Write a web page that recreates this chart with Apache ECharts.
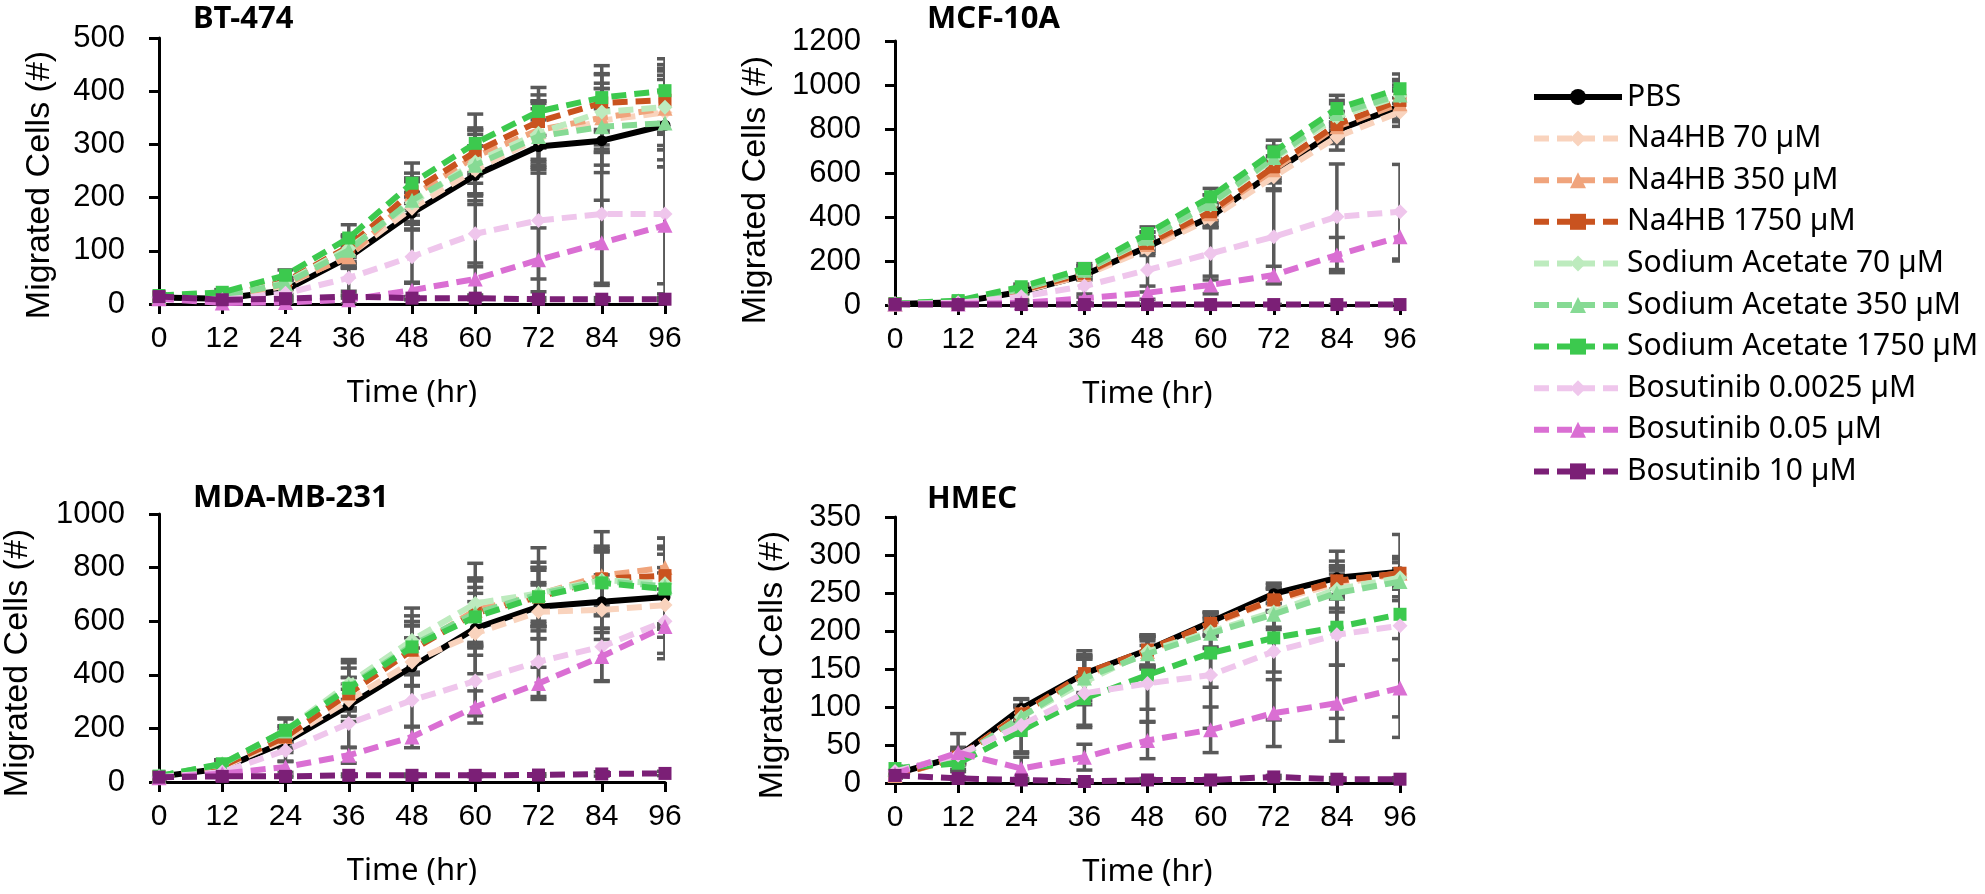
<!DOCTYPE html>
<html><head><meta charset="utf-8">
<script src="https://cdn.jsdelivr.net/npm/echarts@6/dist/echarts.min.js"></script>
<style>html,body{margin:0;padding:0;background:#fff}#c{width:1985px;height:894px}</style>
</head><body><div id="c"></div><script>
const TIMES = [0, 12, 24, 36, 48, 60, 72, 84, 96];
const X_TICKS = [0, 12, 24, 36, 48, 60, 72, 84, 96];
const SERIES_NAMES = ['PBS', 'Na4HB 70 µM', 'Na4HB 350 µM', 'Na4HB 1750 µM',
  'Sodium Acetate 70 µM', 'Sodium Acetate 350 µM', 'Sodium Acetate 1750 µM',
  'Bosutinib 0.0025 µM', 'Bosutinib 0.05 µM', 'Bosutinib 10 µM'];
const COLORS = ['#000000', '#F9D3BD', '#F0A47C', '#C9531F', '#BDEBBE', '#86DA94', '#3CC94E', '#EFC6EC', '#DA6FD3', '#7B1F76'];
const SYMBOLS = ['circle', 'diamond', 'triangle', 'rect', 'diamond', 'triangle', 'rect', 'diamond', 'triangle', 'rect'];
const PANEL_TITLES = ['BT-474', 'MCF-10A', 'MDA-MB-231', 'HMEC'];
const Y_MAX = [500, 1200, 1000, 350];
const Y_INTERVAL = [100, 200, 200, 50];

// means, one row per series (same order as SERIES_NAMES)
const BT474_MEAN = [
  [12, 10, 26, 88, 171, 242, 296, 307, 336],
  [12, 10, 35, 92, 180, 252, 312, 345, 360],
  [12, 12, 38, 89, 202, 277, 327, 350, 368],
  [12, 14, 42, 108, 211, 286, 343, 378, 383],
  [14, 15, 40, 105, 190, 267, 321, 361, 370],
  [14, 15, 38, 101, 195, 261, 315, 333, 340],
  [16, 22, 54, 124, 227, 302, 362, 388, 401],
  [12, 8, 20, 49, 89, 132, 157, 169, 169],
  [10, 2, 3, 8, 26, 47, 83, 115, 148],
  [14, 8, 10, 14, 11, 11, 9, 9, 9]
];
const BT474_ERR = [
  [3, 4, 8, 20, 30, 55, 50, 60, 65],
  [3, 4, 8, 25, 30, 45, 55, 60, 70],
  [3, 4, 8, 20, 35, 50, 55, 65, 70],
  [3, 4, 8, 20, 35, 45, 50, 55, 60],
  [3, 4, 8, 25, 40, 60, 60, 70, 80],
  [3, 4, 8, 25, 40, 58, 62, 72, 82],
  [3, 5, 10, 25, 38, 55, 45, 60, 60],
  [3, 3, 8, 25, 50, 62, 110, 130, 150],
  [3, 2, 3, 8, 15, 30, 60, 80, 110],
  [3, 3, 3, 3, 3, 3, 3, 3, 3]
];
const MCF10A_MEAN = [
  [5, 12, 60, 136, 265, 401, 605, 794, 903],
  [5, 12, 62, 135, 255, 393, 583, 764, 877],
  [5, 14, 66, 140, 275, 415, 615, 810, 915],
  [5, 14, 68, 144, 280, 424, 628, 820, 930],
  [6, 18, 72, 155, 300, 455, 665, 855, 950],
  [6, 18, 74, 158, 303, 461, 670, 870, 955],
  [6, 20, 83, 166, 325, 492, 696, 893, 983],
  [5, 10, 38, 86, 159, 234, 310, 401, 424],
  [4, 5, 10, 30, 56, 91, 136, 227, 310],
  [3, 2, 2, 2, 2, 2, 2, 2, 2]
];
const MCF10A_ERR = [
  [2, 4, 10, 20, 30, 40, 50, 60, 70],
  [2, 4, 10, 22, 30, 42, 55, 60, 65],
  [2, 4, 10, 20, 32, 40, 50, 62, 70],
  [2, 4, 10, 20, 30, 40, 50, 60, 70],
  [2, 4, 10, 22, 30, 45, 50, 60, 68],
  [2, 4, 10, 20, 30, 40, 52, 60, 70],
  [2, 4, 12, 22, 30, 38, 53, 60, 67],
  [2, 4, 15, 50, 100, 120, 210, 240, 215],
  [2, 3, 8, 20, 30, 40, 40, 80, 110],
  [1, 1, 1, 1, 1, 1, 1, 1, 1]
];
const MDA231_MEAN = [
  [20, 50, 150, 286, 430, 573, 654, 673, 690],
  [20, 55, 160, 305, 448, 554, 635, 642, 660],
  [20, 60, 170, 330, 495, 641, 700, 770, 800],
  [20, 60, 168, 330, 492, 630, 690, 758, 770],
  [22, 68, 193, 367, 529, 666, 704, 754, 740],
  [22, 66, 190, 355, 510, 630, 700, 750, 730],
  [22, 68, 193, 350, 504, 616, 691, 743, 720],
  [18, 37, 118, 218, 305, 377, 449, 505, 600],
  [16, 31, 56, 100, 168, 280, 368, 468, 580],
  [18, 21, 21, 25, 25, 25, 26, 30, 32]
];
const MDA231_ERR = [
  [5, 15, 40, 60, 70, 100, 90, 100, 110],
  [5, 15, 40, 60, 90, 150, 100, 110, 120],
  [5, 15, 40, 60, 90, 120, 100, 100, 110],
  [5, 15, 40, 60, 90, 120, 100, 100, 110],
  [5, 15, 45, 90, 120, 150, 170, 180, 170],
  [5, 15, 45, 90, 110, 130, 120, 130, 140],
  [5, 15, 45, 75, 95, 110, 110, 120, 130],
  [5, 10, 40, 90, 100, 130, 130, 130, 120],
  [5, 10, 20, 30, 40, 60, 60, 90, 120],
  [3, 3, 3, 5, 5, 5, 5, 8, 8]
];
const HMEC_MEAN = [
  [12, 35, 98, 144, 175, 212, 249, 270, 278],
  [10, 33, 92, 140, 172, 208, 240, 262, 275],
  [10, 33, 91, 142, 173, 210, 242, 265, 276],
  [10, 34, 91, 144, 175, 210, 241, 266, 276],
  [18, 32, 87, 133, 173, 199, 225, 255, 270],
  [18, 32, 87, 138, 170, 197, 222, 250, 265],
  [19, 26, 69, 111, 142, 171, 191, 205, 222],
  [15, 37, 76, 118, 131, 142, 173, 195, 207],
  [12, 40, 19, 34, 56, 70, 92, 105, 125],
  [10, 6, 4, 2, 4, 4, 8, 5, 5]
];
const HMEC_ERR = [
  [3, 8, 12, 30, 20, 12, 12, 22, 20],
  [3, 8, 10, 25, 20, 15, 15, 20, 20],
  [3, 8, 10, 25, 20, 15, 15, 20, 20],
  [3, 8, 10, 25, 20, 15, 15, 20, 20],
  [3, 8, 15, 30, 20, 20, 20, 25, 25],
  [3, 8, 15, 30, 20, 20, 20, 25, 25],
  [3, 8, 30, 35, 45, 45, 45, 50, 60],
  [3, 10, 35, 45, 50, 70, 90, 110, 120],
  [3, 25, 15, 17, 24, 30, 44, 50, 65],
  [2, 2, 2, 2, 2, 2, 2, 2, 2]
];

const PANELS = [
  {mean: BT474_MEAN, err: BT474_ERR},
  {mean: MCF10A_MEAN, err: MCF10A_ERR},
  {mean: MDA231_MEAN, err: MDA231_ERR},
  {mean: HMEC_MEAN, err: HMEC_ERR}
];

const GRIDS = [
  {left: 159, top: 38, width: 506, height: 266},
  {left: 895, top: 41, width: 505, height: 264},
  {left: 159, top: 514, width: 506, height: 268},
  {left: 895, top: 517, width: 505, height: 266}
];
const TITLE_POS = [[193, 21], [927, 21], [193, 500], [927, 501]];
const YNAME_POS = [[40, 185], [756, 190], [18, 663], [773, 665]];

const AXIS_FONT = 'Liberation Sans, Arial, sans-serif';
const TEXT_FONT = 'Noto Sans, sans-serif';

function renderErr(params, api) {
  const x = api.value(0), lo = api.value(1), hi = api.value(2);
  const pLo = api.coord([x, lo]), pHi = api.coord([x, hi]);
  const hw = 8;
  const style = {stroke: '#595959', lineWidth: 3.5, fill: null};
  return {type: 'group', children: [
    {type: 'line', shape: {x1: pLo[0], y1: pLo[1], x2: pHi[0], y2: pHi[1]}, style},
    {type: 'line', shape: {x1: pLo[0] - hw, y1: pLo[1], x2: pLo[0] + hw, y2: pLo[1]}, style},
    {type: 'line', shape: {x1: pHi[0] - hw, y1: pHi[1], x2: pHi[0] + hw, y2: pHi[1]}, style}
  ]};
}

const xAxes = [], yAxes = [], series = [], graphics = [], titles = [];
GRIDS.forEach((g, i) => {
  xAxes.push({
    gridIndex: i, type: 'value', min: 0, max: 96, interval: 12,
    axisLine: {show: true, onZero: true, lineStyle: {color: '#000', width: 3}},
    axisTick: {show: true, length: 10, lineStyle: {color: '#000', width: 3}},
    axisLabel: {color: '#000', fontSize: 30, fontFamily: AXIS_FONT, margin: 20,
      customValues: X_TICKS},
    splitLine: {show: false},
    name: 'Time (hr)', nameLocation: 'middle', nameGap: 74,
    nameTextStyle: {color: '#000', fontSize: 31, fontFamily: TEXT_FONT}
  });
  yAxes.push({
    gridIndex: i, type: 'value', min: 0, max: Y_MAX[i], interval: Y_INTERVAL[i],
    axisLine: {show: true, lineStyle: {color: '#000', width: 3}},
    axisTick: {show: true, length: 10, lineStyle: {color: '#000', width: 3}},
    axisLabel: {color: '#000', fontSize: 31, fontFamily: AXIS_FONT, margin: 34,
      formatter: v => String(v)},
    splitLine: {show: false}
  });
  titles.push({
    text: PANEL_TITLES[i], left: TITLE_POS[i][0], top: TITLE_POS[i][1] - 17, padding: 0,
    textStyle: {fontSize: 31, fontWeight: 'bold', fontFamily: TEXT_FONT, color: '#000'}
  });
  graphics.push({
    type: 'text', x: YNAME_POS[i][0], y: YNAME_POS[i][1], rotation: Math.PI / 2,
    style: {text: 'Migrated Cells (#)', fill: '#000', fontSize: 34, fontFamily: AXIS_FONT,
      align: 'center', verticalAlign: 'middle'}
  });
  const p = PANELS[i];
  const errData = [];
  p.mean.forEach((row, s) => {
    row.forEach((v, j) => {
      const e = p.err[s][j];
      errData.push([TIMES[j], Math.max(0, v - e), v + e]);
    });
  });
  series.push({
    type: 'custom', name: 'error', xAxisIndex: i, yAxisIndex: i, z: 1,
    renderItem: renderErr, data: errData, clip: true,
    encode: {x: 0, y: [1, 2]}, silent: true
  });
  p.mean.forEach((row, s) => {
    const solid = s === 0;
    series.push({
      type: 'line', name: SERIES_NAMES[s], xAxisIndex: i, yAxisIndex: i, z: 2 + s,
      data: TIMES.map((t, j) => [t, row[j]]),
      symbol: SYMBOLS[s], symbolSize: solid ? 11 : (SYMBOLS[s] === 'rect' ? 13 : 15),
      showSymbol: true,
      itemStyle: {color: COLORS[s]},
      lineStyle: {color: COLORS[s], width: 6, type: solid ? 'solid' : [15, 8]},
      emphasis: {disabled: true}
    });
  });
});

const chart = echarts.init(document.getElementById('c'), null, {renderer: 'canvas'});
chart.setOption({
  animation: false,
  backgroundColor: '#fff',
  title: titles,
  grid: GRIDS,
  xAxis: xAxes,
  yAxis: yAxes,
  legend: {
    data: SERIES_NAMES, orient: 'vertical', left: 1526, top: 77,
    itemWidth: 88, itemHeight: 20, itemGap: 11.6,
    lineStyle: {width: 6},
    textStyle: {fontSize: 30, fontFamily: TEXT_FONT, color: '#000', lineHeight: 30},
    selectedMode: false
  },
  graphic: graphics,
  series: series
});
</script></body></html>
